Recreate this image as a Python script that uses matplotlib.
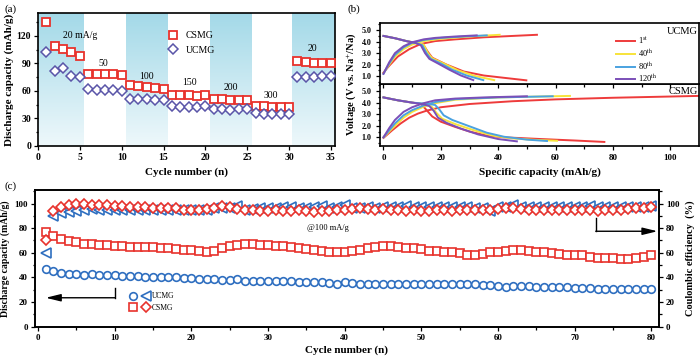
import numpy as np
import matplotlib
matplotlib.use("Agg")
import matplotlib.pyplot as plt
from matplotlib.colors import LinearSegmentedColormap
from matplotlib.legend_handler import HandlerTuple

plt.rcParams['font.family'] = ['Liberation Serif', 'DejaVu Serif']
plt.rcParams['mathtext.fontset'] = 'stix'
plt.rcParams['axes.linewidth'] = 1.2

# ---------------- data (a) ----------------
rate_cycles = list(range(1, 36))
rate_csmg = [135, 109, 106, 102, 98, 78.5, 78.5, 78.5, 78, 77, 66, 65, 64, 63.5, 62.5,
             55.5, 55.5, 55.5, 55, 56, 51, 51, 50.5, 50.5, 50.5, 44, 43.5, 43, 42.5, 42.5,
             92.5, 91.5, 90.5, 90, 90]
rate_ucmg = [102, 82, 85, 76.5, 75, 62, 61, 61, 60.5, 60, 51.5, 51, 51, 50.5, 50.5,
             43.5, 43, 43, 43, 43.5, 40, 40, 39, 40, 40, 35.5, 35, 35, 34.5, 34.5,
             75.5, 75, 75.5, 76, 76]
rate_labels = ["20 mA/g", "50", "100", "150", "200", "300", "20"]
rate_label_x = [5.0, 7.8, 13.0, 18.1, 23.0, 27.8, 32.8]
rate_label_y = [120.5, 90, 76, 69, 64, 55.5, 106.5]
band_edges = [(0, 5.4), (10.5, 15.5), (20.5, 25.5), (30.4, 35.5)]

# ---------------- data (b) ----------------
cycle_names = ["1$^{\\rm st}$", "40$^{\\rm th}$", "80$^{\\rm th}$", "120$^{\\rm th}$"]
curve_colors = ["#ee3b3b", "#f7e33a", "#4aa2e0", "#7b4fb8"]

ucmg_charge_x = [[0, 2, 5, 9, 13, 18, 25, 35, 45, 53.5],
                 [0, 2, 4, 7, 10, 14, 20, 30, 40.5],
                 [0, 2, 4, 7, 10, 14, 20, 28, 36],
                 [0, 2, 4, 7, 10, 14, 18, 25, 32.5]]
ucmg_charge_y = [[1.3, 1.9, 2.7, 3.35, 3.8, 4.05, 4.2, 4.38, 4.5, 4.6],
                 [1.25, 2.0, 2.7, 3.35, 3.75, 4.05, 4.25, 4.45, 4.6],
                 [1.2, 2.1, 2.85, 3.5, 3.9, 4.15, 4.33, 4.45, 4.55],
                 [1.2, 2.2, 3.0, 3.6, 3.95, 4.2, 4.33, 4.45, 4.55]]
ucmg_dis_x = [[0, 4, 8, 11, 14, 15.5, 17, 22, 28, 35, 42, 49.8],
              [0, 4, 8, 11, 14, 15.5, 17, 21, 26, 32, 38.6],
              [0, 4, 8, 11, 13.5, 15, 16.5, 20, 24, 29, 34.8],
              [0, 4, 8, 11, 13, 14.5, 16, 19, 23, 27, 31.3]]
ucmg_dis_y = [[4.5, 4.3, 4.05, 3.9, 3.7, 3.1, 2.6, 2.0, 1.4, 1.05, 0.85, 0.63],
              [4.5, 4.3, 4.05, 3.92, 3.75, 3.0, 2.55, 2.1, 1.5, 1.0, 0.65],
              [4.5, 4.3, 4.05, 3.9, 3.7, 3.0, 2.5, 2.1, 1.55, 1.05, 0.65],
              [4.5, 4.3, 4.05, 3.9, 3.7, 3.0, 2.5, 2.1, 1.55, 1.05, 0.65]]

csmg_charge_x = [[0, 3, 6, 9, 12, 15, 20, 30, 45, 60, 80, 110],
                 [0, 2, 4, 7, 10, 14, 18, 25, 40, 65],
                 [0, 2, 4, 7, 10, 14, 18, 25, 40, 59],
                 [0, 2, 4, 7, 10, 14, 18, 25, 35, 50]]
csmg_charge_y = [[0.95, 1.6, 2.2, 2.7, 3.05, 3.3, 3.6, 3.88, 4.12, 4.28, 4.42, 4.58],
                 [1.0, 1.5, 2.0, 2.7, 3.2, 3.65, 3.95, 4.25, 4.45, 4.58],
                 [1.0, 1.6, 2.2, 2.9, 3.35, 3.75, 4.05, 4.3, 4.45, 4.55],
                 [1.0, 1.8, 2.5, 3.2, 3.6, 3.95, 4.2, 4.35, 4.45, 4.55]]
csmg_dis_x = [[0, 5, 10, 13, 14.5, 17, 20, 25, 30, 36, 42, 55, 67, 77],
              [0, 5, 10, 15, 17, 18.5, 20.5, 25, 31, 38, 45, 53, 60.5],
              [0, 5, 10, 15, 18, 19.5, 21, 24, 30, 36, 42, 50, 57],
              [0, 5, 10, 14, 16, 17.5, 19, 22, 27, 33, 40, 46.5]]
csmg_dis_y = [[4.45, 4.2, 4.0, 3.9, 3.5, 2.8, 2.35, 1.9, 1.5, 1.15, 1.0, 0.85, 0.72, 0.6],
              [4.45, 4.2, 4.0, 3.85, 3.6, 3.1, 2.6, 2.15, 1.65, 1.15, 0.9, 0.78, 0.7],
              [4.45, 4.2, 4.0, 3.9, 3.8, 3.4, 2.9, 2.5, 1.95, 1.4, 1.05, 0.8, 0.68],
              [4.45, 4.2, 4.0, 3.85, 3.7, 3.3, 2.7, 2.25, 1.75, 1.25, 0.85, 0.65]]

# ---------------- data (c) ----------------
cyc = list(range(1, 81))
ucmg_cap = [47, 45.5, 43.5, 43, 42.5, 42, 42.5, 42, 42, 42, 41.5, 41, 41, 40.5, 40.5, 40.5,
            40, 40, 39.5, 39.5, 39, 38.5, 38.5, 38, 38, 38.5, 37.5, 37.5, 37.5, 37, 37, 37,
            37, 36, 36, 36.5, 36, 35.5, 35, 36, 35.5, 35, 35, 35, 35, 35, 34.5, 35, 35, 35,
            35, 35, 35, 35, 34.5, 34.5, 34.5, 34, 34, 33, 32.5, 33, 33, 33, 32.5, 32.5, 32.5,
            32, 32, 31.5, 31.5, 31.5, 31, 31, 31, 30.5, 30.5, 30.5, 30.5, 30.5]
csmg_cap = [77, 74, 71.5, 69.5, 68.5, 67.5, 67, 66.5, 66.5, 65.5, 65.5, 65, 65, 65, 64.5,
            63.5, 63.5, 63, 62.5, 62, 61.5, 61, 61.5, 63.5, 65.5, 66.5, 67, 67, 66.5, 66,
            65.5, 65.5, 64.5, 64, 63, 62, 61.5, 61, 61, 60.5, 61.5, 62.5, 64, 65, 65.5, 65.5,
            65, 64, 63.5, 63, 61.5, 61.5, 61, 60.5, 59.5, 58.5, 58.5, 59, 60.5, 61, 61.5, 62,
            62, 61.5, 61, 60.5, 60, 59, 58.5, 58, 58, 57, 56, 56, 55.5, 55, 55, 55.5, 57, 58.5]
ucmg_ce = [60, 90, 92, 93, 94, 95, 95.5, 95, 95, 94.5, 95, 95, 95, 94.5, 95, 95, 95, 95, 95,
           95, 95, 95, 96, 96, 96.5, 98, 95, 95.5, 96, 96, 96.5, 97, 97.5, 96, 96, 97, 98, 96,
           97, 99, 96, 96.5, 97, 96.5, 97, 97, 97, 98, 97, 97, 97, 97, 97, 97, 97, 97, 96.5,
           96.5, 94, 97, 97.5, 99, 97, 97, 97, 97, 97, 97, 97, 97, 97, 98, 97, 97, 97, 97, 97,
           97, 97.5, 98]
csmg_ce = [70, 94, 97, 99, 99.5, 99.5, 99, 99, 98.5, 98, 98, 97.5, 97.5, 97, 96.5, 96, 96.5,
           96, 95, 95, 95, 95.5, 96, 98, 97, 95.5, 95, 94.5, 94, 94, 94.5, 94, 94, 94.5, 94,
           93.5, 94, 94, 94.5, 95, 95.5, 96, 95.5, 95, 95.5, 95, 94.5, 94, 94.5, 94, 94, 94.5,
           94.5, 94, 94.5, 94.5, 94.5, 94.5, 95, 95.5, 96, 96, 95.5, 95, 95, 94.5, 94.5, 94.5,
           94.5, 94.5, 94.5, 94.5, 94, 94.5, 94.5, 95, 95.5, 96, 96.5, 97]

red = "#e8322c"
purp = "#5a55a8"
blue_c = "#2f6fc0"

fig = plt.figure(figsize=(7.0, 3.61), dpi=100)

def style(ax, size=7, pad=2):
    ax.tick_params(which='both', direction='out', labelsize=size, width=0.9, pad=pad)
    ax.tick_params(which='major', length=3)
    ax.tick_params(which='minor', length=1.8)
    for lab in ax.get_xticklabels() + ax.get_yticklabels():
        lab.set_fontweight('bold')

# ======== (a) ========
axa = fig.add_axes([0.0543, 0.5956, 0.4243, 0.3684])
cmap = LinearSegmentedColormap.from_list("band", ["#eef8fb", "#a3d9e8"])
grad = np.linspace(0, 1, 256).reshape(-1, 1)
for x0, x1 in band_edges:
    axa.imshow(grad, extent=(x0, x1, 145, 0), cmap=cmap, aspect='auto', zorder=0,
               origin='upper')
axa.plot(rate_cycles, rate_csmg, ls='none', marker='s', ms=5.5, mfc='white', mec=red,
         mew=1.3, label='CSMG', zorder=3)
axa.plot(rate_cycles, rate_ucmg, ls='none', marker='D', ms=5.5, mfc='white', mec=purp,
         mew=1.1, label='UCMG', zorder=3)
axa.set_xlim(0, 35.5)
axa.set_ylim(0, 145)
axa.set_xticks([0, 5, 10, 15, 20, 25, 30, 35])
axa.set_yticks([0, 30, 60, 90, 120])
axa.set_yticks(np.arange(15, 145, 30), minor=True)
for t, x, y in zip(rate_labels, rate_label_x, rate_label_y):
    axa.text(x, y, t, fontsize=7, ha='center', va='center')
axa.legend(loc='upper left', bbox_to_anchor=(0.41, 0.93), frameon=False, fontsize=7,
           handlelength=1.0, handletextpad=0.8, labelspacing=0.6)
axa.set_xlabel("Cycle number (n)", fontsize=8, fontweight='bold', labelpad=4)
axa.set_ylabel("Discharge capacity (mAh/g)", fontsize=8, fontweight='bold', labelpad=2)
style(axa)
fig.text(0.007, 0.975, "(a)", fontsize=8, va='center')

# ======== (b) ========
axb1 = fig.add_axes([0.5429, 0.767, 0.4557, 0.170])
axb2 = fig.add_axes([0.5429, 0.5956, 0.4557, 0.1714])
axb1.set_zorder(3)
for ax, cx, cy, dx, dy in [(axb1, ucmg_charge_x, ucmg_charge_y, ucmg_dis_x, ucmg_dis_y),
                           (axb2, csmg_charge_x, csmg_charge_y, csmg_dis_x, csmg_dis_y)]:
    for i in range(4):
        ax.plot(cx[i], cy[i], color=curve_colors[i], lw=1.4, label=cycle_names[i])
        ax.plot(dx[i], dy[i], color=curve_colors[i], lw=1.4)
    ax.set_xlim(-1.2, 110)
    ax.set_yticks([1.0, 2.0, 3.0, 4.0, 5.0])
    ax.set_yticks(np.arange(0.5, 5.6, 0.5), minor=True)
    ax.set_xticks([0, 20, 40, 60, 80, 100])
    ax.set_xticks(np.arange(10, 110, 20), minor=True)
    ax.set_yticklabels(["1.0", "2.0", "3.0", "4.0", "5.0"])
    style(ax, 5.8, pad=3)
axb2.tick_params(axis='x', labelsize=6.5)
for lab in axb2.get_xticklabels():
    lab.set_fontweight('bold')
axb1.set_ylim(0.3, 5.65)
axb2.set_ylim(0.25, 5.6)
axb1.tick_params(axis='x', which='both', labelbottom=False)
axb1.text(0.995, 0.93, "UCMG", transform=axb1.transAxes, ha='right', va='top', fontsize=7.5)
axb2.text(0.995, 0.96, "CSMG", transform=axb2.transAxes, ha='right', va='top', fontsize=7.5)
leg = axb1.legend(loc='upper left', bbox_to_anchor=(0.73, 0.86), frameon=False, fontsize=6,
                  handlelength=2.2, handletextpad=0.4, labelspacing=0.12, borderaxespad=0)
axb2.set_xlabel("Specific capacity (mAh/g)", fontsize=8, fontweight='bold', labelpad=4)
fig.text(0.501, 0.766, "Voltage (V vs. Na$^{+}$/Na)", rotation=90, fontsize=7.5,
         fontweight='bold', ha='center', va='center')
fig.text(0.496, 0.975, "(b)", fontsize=8, va='center')

# ======== (c) ========
axc = fig.add_axes([0.05, 0.095, 0.8914, 0.3787])
axc2 = axc.twinx()
l_ucap, = axc.plot(cyc, ucmg_cap, ls='none', marker='o', ms=5.5, mfc='white', mec=blue_c,
                   mew=1.2, zorder=3)
l_ccap, = axc.plot(cyc, csmg_cap, ls='none', marker='s', ms=5.5, mfc='white', mec=red,
                   mew=1.2, zorder=3)
l_uce, = axc.plot(cyc, ucmg_ce, ls='none', marker='<', ms=6.5, mfc='white', mec=blue_c,
                  mew=1.2, zorder=3)
l_cce, = axc.plot(cyc, csmg_ce, ls='none', marker='D', ms=5.5, mfc='white', mec=red,
                  mew=1.2, zorder=4)
axc.set_xlim(-0.4, 81)
axc.set_ylim(0, 111)
axc2.set_ylim(0, 111)
axc.set_xticks([0, 10, 20, 30, 40, 50, 60, 70, 80])
axc.set_xticks(np.arange(5, 81, 10), minor=True)
for ax in (axc, axc2):
    ax.set_yticks([0, 20, 40, 60, 80, 100])
    ax.set_yticks(np.arange(10, 111, 20), minor=True)
style(axc, 6.5)
style(axc2, 6.5)
axc.set_xlabel("Cycle number (n)", fontsize=8, fontweight='bold', labelpad=3)
axc.set_ylabel("Discharge capacity (mAh/g)", fontsize=7, fontweight='bold', labelpad=3)
axc2.set_ylabel("Coulombic efficiency  (%)", fontsize=7.5, fontweight='bold', labelpad=4)
axc.text(37.8, 80.5, "@100 mA/g", fontsize=6, ha='center', va='center')
# arrows
axc.plot([10, 10], [31.5, 23.5], color='black', lw=1.0)
axc.annotate('', xy=(1.0, 23.5), xytext=(10.05, 23.5),
             arrowprops=dict(arrowstyle='-|>,head_length=0.9,head_width=0.22', color='black',
                             lw=1.0, shrinkA=0, shrinkB=0))
axc.plot([72.8, 72.8], [88.5, 77.5], color='black', lw=1.0)
axc.annotate('', xy=(80.8, 77.5), xytext=(72.75, 77.5),
             arrowprops=dict(arrowstyle='-|>,head_length=0.9,head_width=0.22', color='black',
                             lw=1.0, shrinkA=0, shrinkB=0))
axc.legend([(l_ucap, l_uce), (l_ccap, l_cce)], ["UCMG", "CSMG"],
           handler_map={tuple: HandlerTuple(ndivide=None, pad=0.8)},
           loc='center left', bbox_to_anchor=(0.14, 0.18), frameon=False, fontsize=5.5,
           handlelength=2.6, handletextpad=0.4, labelspacing=0.5)
fig.text(0.007, 0.485, "(c)", fontsize=8, va='center')

fig.savefig("out.png", dpi=100)
